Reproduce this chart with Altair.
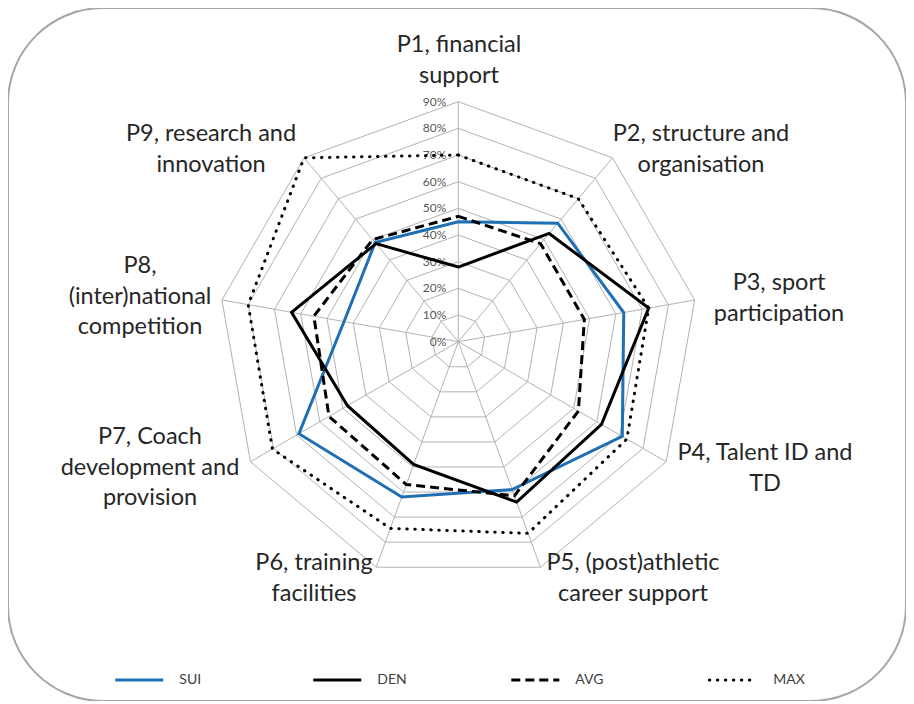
import altair as alt
import pandas as pd

# ---------------- data ----------------
categories = ["P1", "P2", "P3", "P4", "P5", "P6", "P7", "P8", "P9"]
category_labels = [
    "P1, financial\nsupport",
    "P2, structure and\norganisation",
    "P3, sport\nparticipation",
    "P4, Talent ID and\nTD",
    "P5, (post)athletic\ncareer support",
    "P6, training\nfacilities",
    "P7, Coach\ndevelopment and\nprovision",
    "P8,\n(inter)national\ncompetition",
    "P9, research and\ninnovation",
]
series_names = ["SUI", "DEN", "AVG", "MAX"]
sui = [45, 58, 63, 71, 59, 62, 69, 43.5, 48.5]
den = [28, 53, 72.5, 62, 64, 49, 48, 63.5, 48]
avg = [47, 48, 48, 52, 61.5, 57, 56, 55, 50]
mx = [70, 70, 72.5, 73, 76.5, 74.5, 80.5, 80, 90]
series_values = {"SUI": sui, "DEN": den, "AVG": avg, "MAX": mx}
grid_levels = [10, 20, 30, 40, 50, 60, 70, 80, 90]
tick_values = [0, 10, 20, 30, 40, 50, 60, 70, 80, 90]
tick_labels = ["0%", "10%", "20%", "30%", "40%", "50%", "60%", "70%", "80%", "90%"]

# ---------------- layout (pixels) ----------------
W, H = 898, 693
CX, CY = 450.3, 333.7          # centre of the radar inside the chart
K = 240 / 90                    # pixels per percentage point
N = len(categories)
# first-line centre of each category label, pixel offsets from the radar centre
label_offsets = [(0.7, -296.7), (242.7, -207.7), (320.7, -58.7), (306.7, 111.3),
                 (174.7, 221.3), (-144.3, 221.3), (-308.3, 95.3), (-318.3, -75.7),
                 (-247.3, -207.7)]
legend_start, legend_step, legend_len, legend_gap, legend_y = -343, 198, 48, 16, -338.3

styles = {
    "SUI": dict(color="#1f6fb4", strokeWidth=3),
    "DEN": dict(color="#000000", strokeWidth=3),
    "AVG": dict(color="#000000", strokeWidth=3, strokeDash=[9, 5]),
    "MAX": dict(color="#000000", strokeWidth=3, strokeDash=[0.5, 7.5], strokeCap="round"),
}

xs = alt.Scale(domain=[-CX / K, (W - CX) / K], nice=False, zero=False)
ys = alt.Scale(domain=[-(H - CY) / K, CY / K], nice=False, zero=False)
X = lambda f: alt.X(f, type="quantitative", scale=xs, axis=None)
Y = lambda f: alt.Y(f, type="quantitative", scale=ys, axis=None)

polar_x = "datum.v * sin(datum.i * 2 * PI / %d)" % N
polar_y = "datum.v * cos(datum.i * 2 * PI / %d)" % N

# ---------------- tables ----------------
ring_df = pd.DataFrame([{"level": l, "i": i, "v": l} for l in grid_levels for i in range(N)])
spoke_df = pd.DataFrame([{"i": i, "v": max(grid_levels), "z": 0} for i in range(N)])
tick_df = pd.DataFrame({"v": tick_values, "label": tick_labels, "z": 0})
series_df = pd.DataFrame([{"series": s, "i": i, "v": series_values[s][i]}
                          for s in series_names for i in range(N)])
label_df = pd.DataFrame({"text": category_labels,
                         "x": [o[0] / K for o in label_offsets],
                         "y": [-o[1] / K for o in label_offsets]})
legend_df = pd.DataFrame({"series": series_names, "idx": list(range(len(series_names)))})
legend_df["x1"] = (legend_start + legend_step * legend_df["idx"]) / K
legend_df["x2"] = legend_df["x1"] + legend_len / K
legend_df["tx"] = legend_df["x2"] + legend_gap / K
legend_df["y"] = legend_y / K

# ---------------- layers ----------------
rings = alt.Chart(ring_df).transform_calculate(x=polar_x, y=polar_y).mark_line(
    interpolate="linear-closed", color="#b3b3b3", strokeWidth=1
).encode(x=X("x"), y=Y("y"), detail="level:N", order="i:Q")

spokes = alt.Chart(spoke_df).transform_calculate(x=polar_x, y=polar_y).mark_rule(
    color="#b3b3b3", strokeWidth=1
).encode(x=X("z"), y=Y("z"), x2="x:Q", y2="y:Q")

ticks = alt.Chart(tick_df).mark_text(
    align="right", baseline="middle", dx=-12, font="Lato", fontSize=12, color="#595959"
).encode(x=X("z"), y=Y("v"), text="label:N")

layers = [rings, spokes, ticks]
for s in series_names:
    st = styles[s]
    line = alt.Chart(series_df).transform_filter(alt.datum.series == s).transform_calculate(
        x=polar_x, y=polar_y
    ).mark_line(interpolate="linear-closed", **st).encode(x=X("x"), y=Y("y"), order="i:Q")
    leg = alt.Chart(legend_df).transform_filter(alt.datum.series == s).mark_rule(**st).encode(
        x=X("x1"), x2="x2:Q", y=Y("y"))
    layers += [line, leg]

legend_text = alt.Chart(legend_df).mark_text(
    align="left", baseline="middle", font="Lato", fontSize=14, color="#404040"
).encode(x=X("tx"), y=Y("y"), text="series:N")

labels = alt.Chart(label_df).mark_text(
    align="center", baseline="middle", font="Lato", fontSize=23.5, lineBreak="\n",
    lineHeight=30.5, color="#262626"
).encode(x=X("x"), y=Y("y"), text="text:N")

layers += [legend_text, labels]

chart = alt.layer(*layers).properties(
    width=W, height=H, padding=0, autosize=alt.AutoSizeParams(type="none")
).configure_view(stroke="#a6a6a6", strokeWidth=2, cornerRadius=95)

chart.save("out.html", embed_options={"renderer": "svg", "actions": False})
